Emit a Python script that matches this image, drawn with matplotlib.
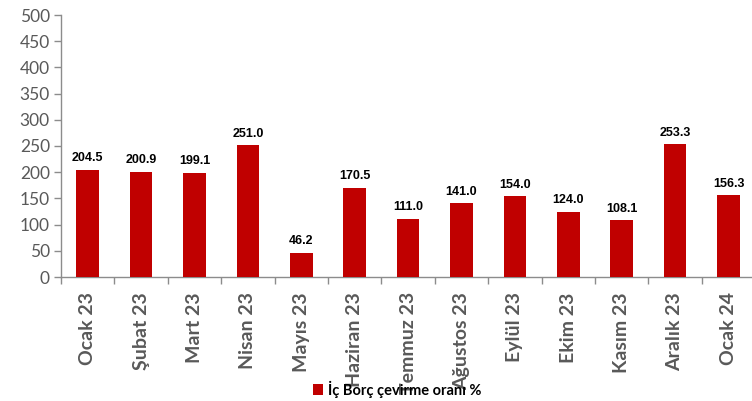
import matplotlib.pyplot as plt
import numpy as np

months = ["Ocak 23", "Şubat 23", "Mart 23", "Nisan 23", "Mayıs 23", "Haziran 23",
          "Temmuz 23", "Ağustos 23", "Eylül 23", "Ekim 23", "Kasım 23", "Aralık 23", "Ocak 24"]
values = [204.5, 200.9, 199.1, 251.0, 46.2, 170.5, 111.0, 141.0, 154.0, 124.0, 108.1, 253.3, 156.3]
yticks = [0, 50, 100, 150, 200, 250, 300, 350, 400, 450, 500]
series_name = "İç Borç çevirme oranı %"

BAR_COLOR = "#C00000"
AXIS_COLOR = "#8C8C8C"
TEXT_GRAY = "#595959"

fig = plt.figure(figsize=(7.52, 4.01), dpi=100)
ax = fig.add_axes((61 / 752, 1 - 277 / 401, 691 / 752, 262 / 401))

x = np.arange(len(months))
bars = ax.bar(x, values, width=0.42, color=BAR_COLOR, label=series_name, zorder=3)

# value labels above bars
for xi, v in zip(x, values):
    ax.annotate(f"{v:.1f}", (xi, v), xytext=(0, 4), textcoords="offset points",
                ha="center", va="bottom", fontsize=9, fontweight="bold",
                family="Liberation Sans", color="black")

ax.set_xlim(-0.5, -0.5 + 691 / 53.4)
ax.set_ylim(0, 500)
ax.set_yticks(yticks)
ax.set_yticklabels([str(t) for t in yticks], fontsize=12.5, family="Lato", color=TEXT_GRAY)

# category labels on major ticks (no marks), tick marks between categories
ax.set_xticks(x)
ax.set_xticklabels(months, rotation=90, fontsize=14, fontweight="bold",
                   family="Lato", color=TEXT_GRAY)
ax.set_xticks(np.arange(len(months)) - 0.5, minor=True)
ax.tick_params(axis="x", which="major", length=0, pad=11)
ax.tick_params(axis="x", which="minor", length=5, color=AXIS_COLOR, width=1)
ax.tick_params(axis="y", length=5, color=AXIS_COLOR, width=1, pad=3)

for side in ["top", "right"]:
    ax.spines[side].set_visible(False)
for side in ["left", "bottom"]:
    ax.spines[side].set_color(AXIS_COLOR)
    ax.spines[side].set_linewidth(1)

# legend sits over the long month labels, like the original
leg = fig.legend(handles=[bars], labels=[series_name], loc="center",
                 bbox_to_anchor=(397 / 752, 1 - 389 / 401), frameon=False,
                 handlelength=0.7, handleheight=0.7, handletextpad=0.3,
                 borderpad=0.0, borderaxespad=0,
                 prop={"family": "Lato", "weight": "bold", "size": 10.5})

fig.savefig("out.png", dpi=100)
